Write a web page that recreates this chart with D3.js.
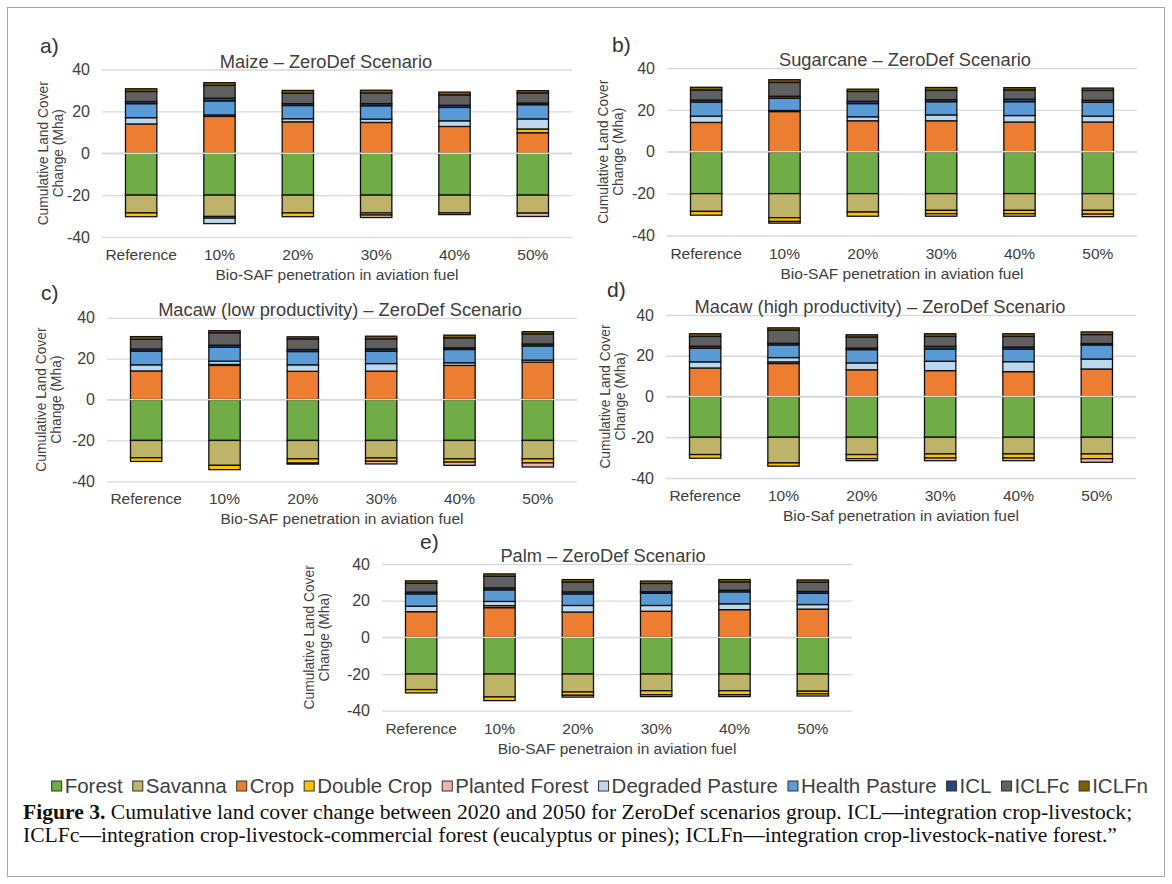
<!DOCTYPE html>
<html>
<head>
<meta charset="utf-8">
<script src="https://cdn.jsdelivr.net/npm/d3@7"></script>
<style>
body { margin: 0; background: #fff; }
text { font-family: Arial, "Liberation Sans", sans-serif; }
</style>
</head>
<body>
<svg id="fig" width="1172" height="884"></svg>
<script>
var categories = ["Reference", "10%", "20%", "30%", "40%", "50%"];
var seriesNames = ["Forest", "Savanna", "Crop", "Double Crop", "Planted Forest", "Degraded Pasture", "Health Pasture", "ICL", "ICLFc", "ICLFn"];
var seriesColors = ["#70AD47", "#BDB46A", "#ED7D31", "#FFC000", "#EDB4A8", "#BDD7EE", "#5B9BD5", "#264478", "#606060", "#7F6000"];
var yTicks = [40, 20, 0, -20, -40];

// each row follows seriesNames, each column follows categories (Mha)
var maize = [
  [-20, -20, -20, -20, -20, -20],
  [-8.5, -10.2, -8.5, -8.5, -8.5, -8.6],
  [14, 17.6, 15, 14.7, 12.8, 9.8],
  [-1.8, -0.8, -1.8, -1, 0, 1.8],
  [0, 0.7, 0, -1.2, -0.8, -1.6],
  [3, -2.6, 1.5, 1.6, 2.7, 4.8],
  [6.7, 6.7, 6.3, 6.4, 6.4, 6.8],
  [1, 1.3, 0.9, 1, 1, 0.8],
  [4.8, 6.1, 5, 5.1, 5, 4.8],
  [1.3, 1.3, 1.3, 1.3, 1.3, 1.1]
];
var sugarcane = [
  [-20, -20, -20, -20, -20, -20],
  [-8.5, -11.5, -8.8, -8, -8, -8],
  [14, 19.2, 14.8, 14.8, 14.2, 14.2],
  [-1.8, -1.8, -2, -1.6, -1.6, -1.8],
  [0, -0.8, 0, -1.2, -1.2, -1.2],
  [3, 0.5, 1.9, 2.8, 3.1, 2.8],
  [6.7, 5.8, 6.3, 6.3, 6.6, 6.6],
  [1, 1, 1.1, 1, 1.2, 1],
  [4.8, 6.6, 4.7, 4.4, 4.4, 4.7],
  [1.3, 1.3, 1.1, 1.4, 1.1, 1.1]
];
var macawLow = [
  [-20, -20, -20, -20, -20, -20],
  [-8.5, -12.2, -9, -8.6, -9, -9],
  [14, 16.7, 13.8, 13.9, 16.7, 18.3],
  [-1.8, -2.1, -2.1, -1.6, -1.6, -2],
  [0, 0.5, -0.5, -1.3, -1.6, -2],
  [3, 1.6, 3.2, 3.7, 1.3, 1],
  [6.7, 6.8, 6.5, 6.1, 6.5, 6.9],
  [1, 1, 1, 1.1, 0.8, 1],
  [4.8, 6.1, 5.2, 4.9, 4.9, 4.9],
  [1.3, 1, 1, 1.3, 1.3, 1.1]
];
var macawHigh = [
  [-20, -20, -20, -20, -20, -20],
  [-8.5, -12.6, -8.5, -8.2, -8.2, -8.2],
  [14, 16.2, 13.1, 12.7, 12.2, 13.5],
  [-1.8, -1.6, -2, -2, -2, -2.3],
  [0, 0.8, -1, -1.3, -1.3, -1.8],
  [3, 2.1, 3.4, 4.6, 4.9, 4.9],
  [6.7, 6.2, 6.5, 6, 6.2, 6.9],
  [1, 0.8, 0.8, 1.3, 1, 0.7],
  [4.8, 6.5, 5.4, 4.9, 5.2, 4.4],
  [1.3, 1.1, 1.1, 1.3, 1.3, 1.3]
];
var palm = [
  [-20, -20, -20, -20, -20, -20],
  [-8.5, -12.5, -9.8, -9.1, -9.1, -9.4],
  [14, 16.2, 13.8, 14.2, 15.1, 15.4],
  [-1.8, -2, -1.8, -2.2, -2.2, -1.4],
  [0, 1.1, -1, -1, -1, -1.2],
  [3, 2.3, 3.6, 3.2, 3.2, 2.5],
  [6.7, 6.3, 6.3, 6.6, 6.5, 6.1],
  [1, 1.1, 1.1, 0.9, 0.9, 1],
  [4.8, 6.3, 5.4, 4.5, 4.5, 5],
  [1.3, 1.3, 1.3, 1.3, 1.3, 1.3]
];

var panels = [
  {data: maize, letter: "a)", title: "Maize \u2013 ZeroDef Scenario", xTitle: "Bio-SAF penetration in aviation fuel",
   x0: 102, x1: 572, yTop: 69.5, yBot: 237, lx: 40, ly: 53, tx: 326, yt: -54},
  {data: sugarcane, letter: "b)", title: "Sugarcane \u2013 ZeroDef Scenario", xTitle: "Bio-SAF penetration in aviation fuel",
   x0: 667, x1: 1137, yTop: 68, yBot: 235.5, lx: 612, ly: 52, tx: 905, yt: -59},
  {data: macawLow, letter: "c)", title: "Macaw (low productivity) \u2013 ZeroDef Scenario", xTitle: "Bio-SAF penetration in aviation fuel",
   x0: 107, x1: 577, yTop: 317.8, yBot: 481.3, lx: 41, ly: 300, tx: 340, yt: -61},
  {data: macawHigh, letter: "d)", title: "Macaw (high productivity) \u2013 ZeroDef Scenario", xTitle: "Bio-Saf penetration in aviation fuel",
   x0: 666, x1: 1136, yTop: 315, yBot: 478, lx: 607, ly: 297, tx: 880, yt: -56},
  {data: palm, letter: "e)", title: "Palm \u2013 ZeroDef Scenario", xTitle: "Bio-SAF penetraion in aviation fuel",
   x0: 382, x1: 852, yTop: 564, yBot: 710.7, lx: 420, ly: 549, tx: 603, yt: -68}
];

var svg = d3.select("#fig");

svg.append("rect").attr("x", 7.5).attr("y", 7.5).attr("width", 1157).attr("height", 869)
  .attr("fill", "none").attr("stroke", "#a6a6a6").attr("stroke-width", 1);

var stack = d3.stack()
  .keys(d3.range(seriesNames.length))
  .value(function(d, k) { return d.values[k]; })
  .offset(d3.stackOffsetDiverging);

var drawPanel = function(p) {
  var rows, series, x, y, g, grid, yAxis, xLabels, midX, midY;
  rows = categories.map(function(c, j) {
    return {cat: c, values: p.data.map(function(r) { return r[j]; })};
  });
  series = stack(rows);

  x = d3.scaleBand().domain(categories).range([p.x0, p.x1]).paddingInner(0.6).paddingOuter(0.3);
  y = d3.scaleLinear().domain([-40, 40]).range([p.yBot, p.yTop]);
  g = svg.append("g");

  grid = g.append("g").attr("transform", "translate(" + p.x0 + ",0)")
    .call(d3.axisLeft(y).tickValues(yTicks).tickSize(-(p.x1 - p.x0)).tickFormat(""));
  grid.select(".domain").remove();
  grid.selectAll("line").attr("stroke", "#d9d9d9").attr("stroke-width", 1.3);

  g.append("g").selectAll("g").data(series).join("g")
    .attr("fill", function(d) { return seriesColors[d.key]; })
    .selectAll("rect").data(function(d) { return d.filter(function(v) { return v[1] !== v[0]; }); }).join("rect")
    .attr("x", function(d) { return x(d.data.cat); })
    .attr("width", x.bandwidth())
    .attr("y", function(d) { return y(Math.max(d[0], d[1])); })
    .attr("height", function(d) { return Math.abs(y(d[0]) - y(d[1])); })
    .attr("stroke", "#111").attr("stroke-width", 1.3);

  // horizontal axis line at zero sits over the bars
  g.append("line").attr("x1", p.x0).attr("x2", p.x1).attr("y1", y(0)).attr("y2", y(0))
    .attr("stroke", "#d9d9d9").attr("stroke-width", 1.3);

  yAxis = g.append("g").attr("transform", "translate(" + p.x0 + ",0)")
    .call(d3.axisLeft(y).tickValues(yTicks).tickSize(0).tickPadding(12).tickFormat(function(d) { return String(d); }));
  yAxis.select(".domain").remove();
  yAxis.selectAll("text").attr("font-size", 16).attr("fill", "#404040")
    .style("font-family", "Arial, 'Liberation Sans', sans-serif");

  xLabels = g.append("g").attr("transform", "translate(0," + (p.yBot + 23) + ")")
    .call(d3.axisBottom(x).tickSize(0).tickPadding(0));
  xLabels.select(".domain").remove();
  xLabels.selectAll("text").attr("dy", 0).attr("font-size", 15.5).attr("fill", "#404040")
    .style("font-family", "Arial, 'Liberation Sans', sans-serif");

  midX = (p.x0 + p.x1) / 2;
  midY = (p.yTop + p.yBot) / 2;

  g.append("text").attr("x", midX).attr("y", p.yBot + 43).attr("text-anchor", "middle")
    .attr("font-size", 15.5).attr("fill", "#404040").text(p.xTitle);

  g.append("text").attr("x", p.tx).attr("y", p.yTop - 2).attr("text-anchor", "middle")
    .attr("font-size", 18.3).attr("fill", "#404040").text(p.title);

  g.append("text").attr("x", p.lx).attr("y", p.ly).attr("font-size", 21).attr("fill", "#333").text(p.letter);

  g.append("text").attr("transform", "translate(" + (p.x0 + p.yt) + "," + midY + ") rotate(-90)")
    .attr("text-anchor", "middle").attr("font-size", 13.8).attr("fill", "#404040")
    .selectAll("tspan").data(["Cumulative Land Cover", "Change (Mha)"]).join("tspan")
    .attr("x", 0).attr("dy", function(d, i) { return i === 0 ? 0 : "1.1em"; })
    .text(function(d) { return d; });
};

panels.forEach(drawPanel);

// legend, right end near the frame
var legend = svg.append("g").attr("transform", "translate(0,786)");
var items = seriesNames.map(function(name, i) {
  var item = legend.append("g");
  item.append("rect").attr("x", 0).attr("y", -5).attr("width", 10).attr("height", 10)
    .attr("fill", seriesColors[i]).attr("stroke", "#333").attr("stroke-width", 1);
  var t = item.append("text").attr("x", 13).attr("y", 7).attr("font-size", 20.5).attr("fill", "#404040").text(name);
  return {item: item, w: 13 + t.node().getComputedTextLength()};
});
var legendGap = 10;
var legendTotal = d3.sum(items, function(d) { return d.w; }) + legendGap * (items.length - 1);
var lx = 1148 - legendTotal;
items.forEach(function(d) {
  d.item.attr("transform", "translate(" + lx + ",0)");
  lx += d.w + legendGap;
});

// caption
var line1 = svg.append("text").attr("x", 23).attr("y", 819).attr("font-size", 17.5).attr("fill", "#111")
  .style("font-family", "'Liberation Serif', serif");
line1.append("tspan").attr("font-weight", "bold").text("Figure 3.");
line1.append("tspan").text(" Cumulative land cover change between 2020 and 2050 for ZeroDef scenarios group. ICL\u2014integration crop-livestock;");
var line2 = svg.append("text").attr("x", 23).attr("y", 842).attr("font-size", 17.5).attr("fill", "#111")
  .style("font-family", "'Liberation Serif', serif")
  .text("ICLFc\u2014integration crop-livestock-commercial forest (eucalyptus or pines); ICLFn\u2014integration crop-livestock-native forest.\u201D");
var capSize = 17.5 * 1110 / line1.node().getComputedTextLength();
line1.attr("font-size", capSize);
line2.attr("font-size", capSize);
</script>
</body>
</html>
